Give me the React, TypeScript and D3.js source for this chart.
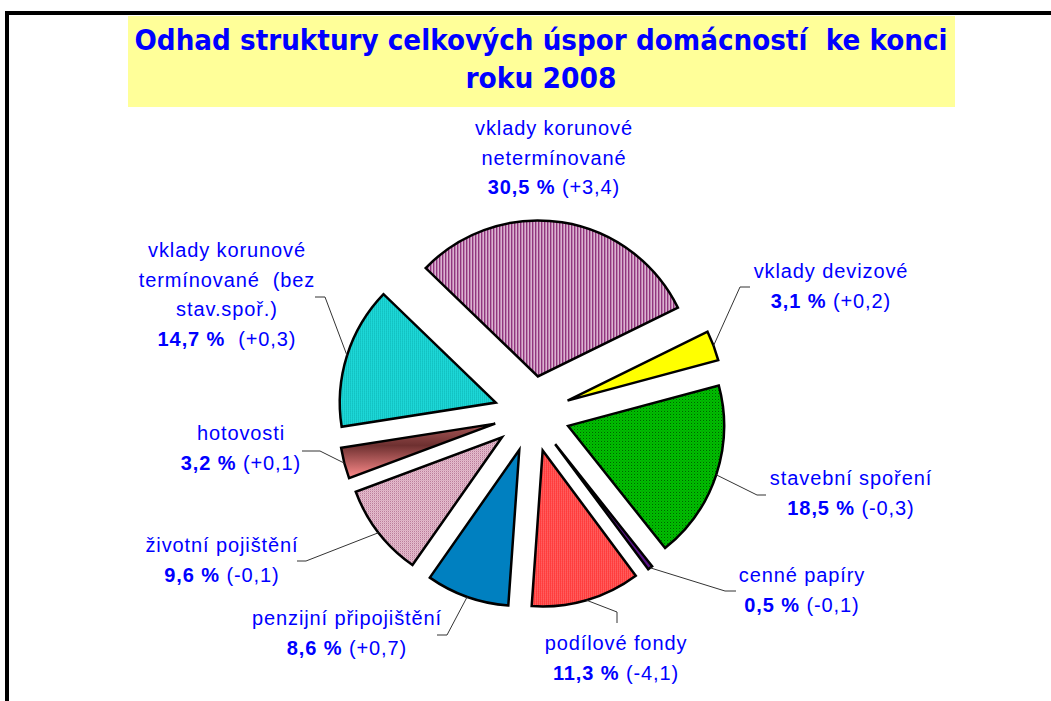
import React from 'react';
import * as d3 from 'd3';

// Odhad struktury celkových úspor domácností ke konci roku 2008
const categories = [
  'vklady korunové netermínované',
  'vklady devizové',
  'stavební spoření',
  'cenné papíry',
  'podílové fondy',
  'penzijní připojištění',
  'životní pojištění',
  'hotovosti',
  'vklady korunové termínované (bez stav.spoř.)',
];
const shares = [30.5, 3.1, 18.5, 0.5, 11.3, 8.6, 9.6, 3.2, 14.7];
const changes = ['+3,4', '+0,2', '-0,3', '-0,1', '-4,1', '+0,7', '-0,1', '+0,1', '+0,3'];
const nameLines = [
  ['vklady korunové', 'netermínované'],
  ['vklady devizové'],
  ['stavební spoření'],
  ['cenné papíry'],
  ['podílové fondy'],
  ['penzijní připojištění'],
  ['životní pojištění'],
  ['hotovosti'],
  ['vklady korunové', 'termínované  (bez', 'stav.spoř.)'],
];
const titleLines = ['Odhad struktury celkových úspor domácností  ke konci', 'roku 2008'];

// layout of the hand-placed data labels: centre x, first baseline, leader elbow + end
const labelLayout = [
  { x: 554, y: 135, leader: null },
  { x: 831, y: 278, leader: [[740, 287], [750, 287]] },
  { x: 851, y: 485, leader: [[757, 495], [766, 495]] },
  { x: 802, y: 582, leader: [[725, 591], [736, 591]] },
  { x: 616, y: 650, leader: [[617, 612], [617, 623]] },
  { x: 347, y: 625, leader: [[447, 635], [437, 635]] },
  { x: 222, y: 552, leader: [[306, 561], [297, 561]] },
  { x: 241, y: 440, leader: [[320, 451], [302, 451]] },
  { x: 227, y: 257, leader: [[325, 297], [315, 297]] },
];
const sliceFills = [
  'url(#pStripe)', '#ffff00', 'url(#pGreen)', '#5c1489', 'url(#pRed)',
  '#0080c0', 'url(#pRose)', 'url(#gBrown)', 'url(#pCyan)',
];

const W = 1051;
const H = 701;
const cx = 532;
const cy = 414;
const R = 156;
const EXPLODE = 38;
const START = (-46 * Math.PI) / 180;
const LINE = 29.5;

const cz = d3.formatLocale({ decimal: ',', thousands: ' ', grouping: [3], currency: ['', ' Kč'] });
const pct = (v: number) => cz.format('.1f')(v) + ' %';

export default function App() {
  const pie = d3
    .pie<number>()
    .sort(null)
    .value((d) => d)
    .startAngle(START)
    .endAngle(START + 2 * Math.PI);
  const arcs = pie(shares);
  const arc = d3.arc<d3.PieArcDatum<number>>().innerRadius(0).outerRadius(R);
  const rim = d3.arc<d3.PieArcDatum<number>>().innerRadius(R).outerRadius(R);
  const line = d3.line();

  return (
    <svg
      width={W}
      height={H}
      style={{ position: 'absolute', left: 0, top: 0, background: '#fff' }}
      fontFamily="'Liberation Sans', Arial, sans-serif"
    >
      <defs>
        <pattern id="pStripe" width="3" height="3" patternUnits="userSpaceOnUse">
          <rect width="3" height="3" fill="#e6c4dc" />
          <rect width="1.5" height="3" fill="#8c2c78" />
        </pattern>
        <pattern id="pGreen" width="3" height="3" patternUnits="userSpaceOnUse">
          <rect width="3" height="3" fill="#00c400" />
          <rect width="1" height="1" fill="#004c00" />
          <rect x="1.5" y="1.5" width="1" height="1" fill="#007a00" />
        </pattern>
        <pattern id="pRed" width="2" height="2" patternUnits="userSpaceOnUse">
          <rect width="2" height="2" fill="#ff2020" />
          <rect width="1" height="1" fill="#ffd0d0" />
        </pattern>
        <pattern id="pRose" width="2" height="2" patternUnits="userSpaceOnUse">
          <rect width="2" height="2" fill="#f0d4e0" />
          <rect width="1" height="1" fill="#a85a80" />
          <rect x="1" y="1" width="1" height="1" fill="#d49cb4" />
        </pattern>
        <pattern id="pCyan" width="2" height="2" patternUnits="userSpaceOnUse">
          <rect width="2" height="2" fill="#20dede" />
          <rect width="1" height="1" fill="#009c9c" />
        </pattern>
        <linearGradient id="gBrown" x1="0" y1="0" x2="0" y2="1">
          <stop offset="0" stopColor="#a85858" />
          <stop offset="0.4" stopColor="#6e3030" />
          <stop offset="1" stopColor="#ff8c8c" />
        </linearGradient>
      </defs>

      <rect x={7} y={13} width={1050} height={720} fill="none" stroke="#000" strokeWidth={4} />
      <rect x={128} y={16} width={827} height={91} fill="#ffff99" />
      {titleLines.map((t, i) => (
        <text
          key={t}
          x={541}
          y={50 + i * 38}
          textAnchor="middle"
          fontFamily="'DejaVu Sans', Verdana, sans-serif"
          fontWeight="bold"
          fontSize={28}
          fill="#0000ff"
          textLength={i === 0 ? 813 : 151}
          lengthAdjust="spacingAndGlyphs"
          xmlSpace="preserve"
        >
          {t}
        </text>
      ))}

      <g transform={`translate(${cx},${cy})`}>
        {arcs.map((a, i) => {
          const mid = (a.startAngle + a.endAngle) / 2;
          const dx = EXPLODE * Math.sin(mid);
          const dy = -EXPLODE * Math.cos(mid);
          return (
            <path
              key={categories[i]}
              d={arc(a) || ''}
              transform={`translate(${dx},${dy})`}
              fill={sliceFills[i]}
              stroke="#000"
              strokeWidth={2.5}
              strokeLinejoin="miter"
            />
          );
        })}
      </g>

      {arcs.map((a, i) => {
        const lay = labelLayout[i];
        if (!lay.leader) return null;
        const mid = (a.startAngle + a.endAngle) / 2;
        const [rx, ry] = rim.centroid(a);
        const start: [number, number] = [
          cx + rx + EXPLODE * Math.sin(mid),
          cy + ry - EXPLODE * Math.cos(mid),
        ];
        const pts = [start, ...(lay.leader as [number, number][])];
        return (
          <path key={'l' + i} d={line(pts) || ''} fill="none" stroke="#333" strokeWidth={1} />
        );
      })}

      {categories.map((c, i) => {
        const lay = labelLayout[i];
        const names = nameLines[i];
        return (
          <g key={'t' + c} fill="#0000ff" fontSize={20} letterSpacing={0.9} textAnchor="middle">
            {names.map((n, j) => (
              <text key={n} x={lay.x} y={lay.y + j * LINE} xmlSpace="preserve">
                {n}
              </text>
            ))}
            <text x={lay.x} y={lay.y + names.length * LINE} xmlSpace="preserve">
              <tspan fontWeight="bold">{pct(shares[i])}</tspan>
              <tspan>{(i === 8 ? '  (' : ' (') + changes[i] + ')'}</tspan>
            </text>
          </g>
        );
      })}
    </svg>
  );
}
